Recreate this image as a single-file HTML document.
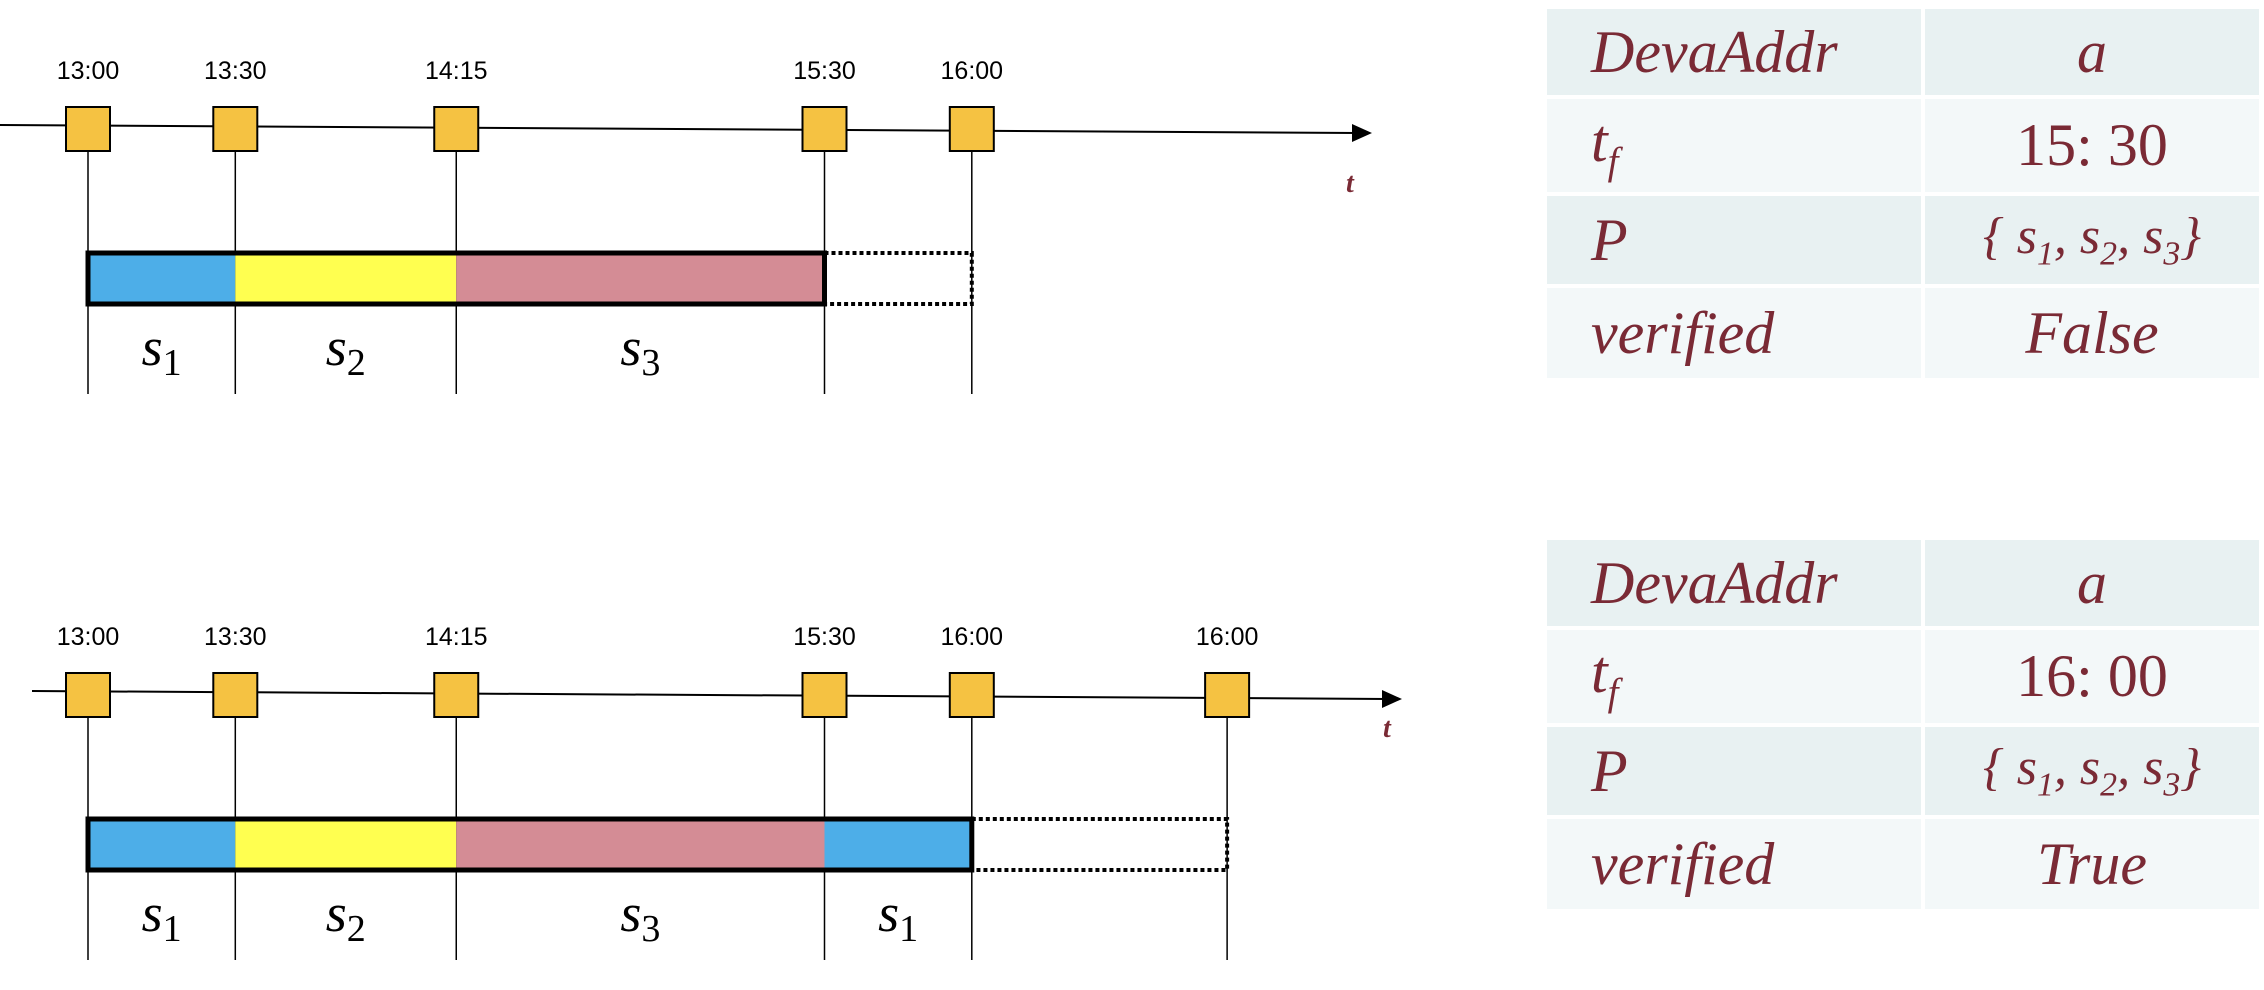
<!DOCTYPE html>
<html><head><meta charset="utf-8"><style>
body{margin:0;background:#fff;width:2264px;height:990px;overflow:hidden;position:relative;font-family:"Liberation Sans",sans-serif}
table{position:absolute;left:1543px;border-collapse:separate;border-spacing:4px;width:720px}
td{color:#7a2a35;font-family:"Liberation Serif",serif;font-style:italic;font-size:60px;padding:0}
td.k{width:330px;padding-left:44px}
td.v{text-align:center}
tr.d td{background:#e8f1f2}tr.l td{background:#f3f8f9}
sub{font-size:0.65em;font-style:italic}
</style></head><body>
<svg id="chart" width="1500" height="990" style="position:absolute;left:0;top:0"></svg>
<table style="top:5px">
<tr class="d" style="height:86px"><td class="k">DevaAddr</td><td class="v">a</td></tr>
<tr class="l" style="height:93px"><td class="k">t<sub>f</sub></td><td class="v" style="font-style:normal">15: 30</td></tr>
<tr class="d" style="height:88px"><td class="k">P</td><td class="v" style="font-size:52px">{ s<sub>1</sub>, s<sub>2</sub>, s<sub>3</sub>}</td></tr>
<tr class="l" style="height:90px"><td class="k">verified</td><td class="v">False</td></tr>
</table>
<table style="top:536px">
<tr class="d" style="height:86px"><td class="k">DevaAddr</td><td class="v">a</td></tr>
<tr class="l" style="height:93px"><td class="k">t<sub>f</sub></td><td class="v" style="font-style:normal">16: 00</td></tr>
<tr class="d" style="height:88px"><td class="k">P</td><td class="v" style="font-size:52px">{ s<sub>1</sub>, s<sub>2</sub>, s<sub>3</sub>}</td></tr>
<tr class="l" style="height:90px"><td class="k">verified</td><td class="v">True</td></tr>
</table>
<script>
const topTimes=[0,30,75,150,180];
const topLabels=["13:00","13:30","14:15","15:30","16:00"];
const topSegStart=[0,30,75];
const topSegEnd=[30,75,150];
const topSegName=["1","2","3"];
const topDotted=[150,180];
const botTimes=[0,30,75,150,180,232];
const botLabels=["13:00","13:30","14:15","15:30","16:00","16:00"];
const botSegStart=[0,30,75,150];
const botSegEnd=[30,75,150,180];
const botSegName=["1","2","3","1"];
const botDotted=[180,232];
const colors={"1":"#4daee8","2":"#ffff50","3":"#d48c95"};
const NS="http://www.w3.org/2000/svg";
const svg=document.getElementById('chart');
const x=m=>88+m*4.91;
function mk(t,a,p){const e=document.createElementNS(NS,t);for(const k in a)e.setAttribute(k,a[k]);(p||svg).appendChild(e);return e;}
function panel(oy,ax0,ax1,times,labels,ss,se,sn,dot,tpos){
  const g=mk('g',{});
  
  
  const ln=mk('line',{x1:ax0,y1:oy-4,x2:ax1-14,y2:oy+4,stroke:'#000','stroke-width':2},g);
  
  
  const ar=mk('polygon',{points:`${ax1},${oy+4} ${ax1-20},${oy-5} ${ax1-20},${oy+13}`,fill:'#000'},g);
  
  
  const tl=mk('text',{x:tpos[0],y:tpos[1],fill:'#7a2a35','font-size':28,'font-style':'italic','font-weight':'bold','font-family':'Liberation Serif'},g);
  tl.textContent='t';
  
  
  times.forEach((m,i)=>{
    const cx=x(m);
    const v=mk('line',{x1:cx,y1:oy+22,x2:cx,y2:oy+265,stroke:'#000','stroke-width':1.5},g);
    
    
    const r=mk('rect',{x:cx-22,y:oy-22,width:44,height:44,fill:'#f5c242',stroke:'#000','stroke-width':2},g);
    
    
    const t=mk('text',{x:cx,y:oy-50,'text-anchor':'middle','font-size':25,fill:'#000'},g);
    t.textContent=labels[i];
    
    
  });
  const by=oy+124,bh=51;
  ss.forEach((s,i)=>{
    const r=mk('rect',{x:x(s),y:by,width:x(se[i])-x(s),height:bh,fill:colors[sn[i]]},g);
    
    
    const t=mk('text',{x:(x(s)+x(se[i]))/2,y:by+112,'text-anchor':'middle','font-size':54,'font-style':'italic','font-family':'Liberation Serif'},g);
    t.innerHTML='s<tspan font-size="38" dy="10" font-style="normal">'+sn[i]+'</tspan>';
    
    
  });
  const b=mk('rect',{x:x(ss[0]),y:by,width:x(se[se.length-1])-x(ss[0]),height:bh,fill:'none',stroke:'#000','stroke-width':5},g);
  
  
  const d=mk('rect',{x:x(dot[0]),y:by,width:x(dot[1])-x(dot[0]),height:bh,fill:'none',stroke:'#000','stroke-width':4,'stroke-dasharray':'4 3'},g);
  
  
}
panel(129,0,1372,topTimes,topLabels,topSegStart,topSegEnd,topSegName,topDotted,[1346,192]);
panel(695,32,1402,botTimes,botLabels,botSegStart,botSegEnd,botSegName,botDotted,[1383,737]);
</script>
</body></html>
